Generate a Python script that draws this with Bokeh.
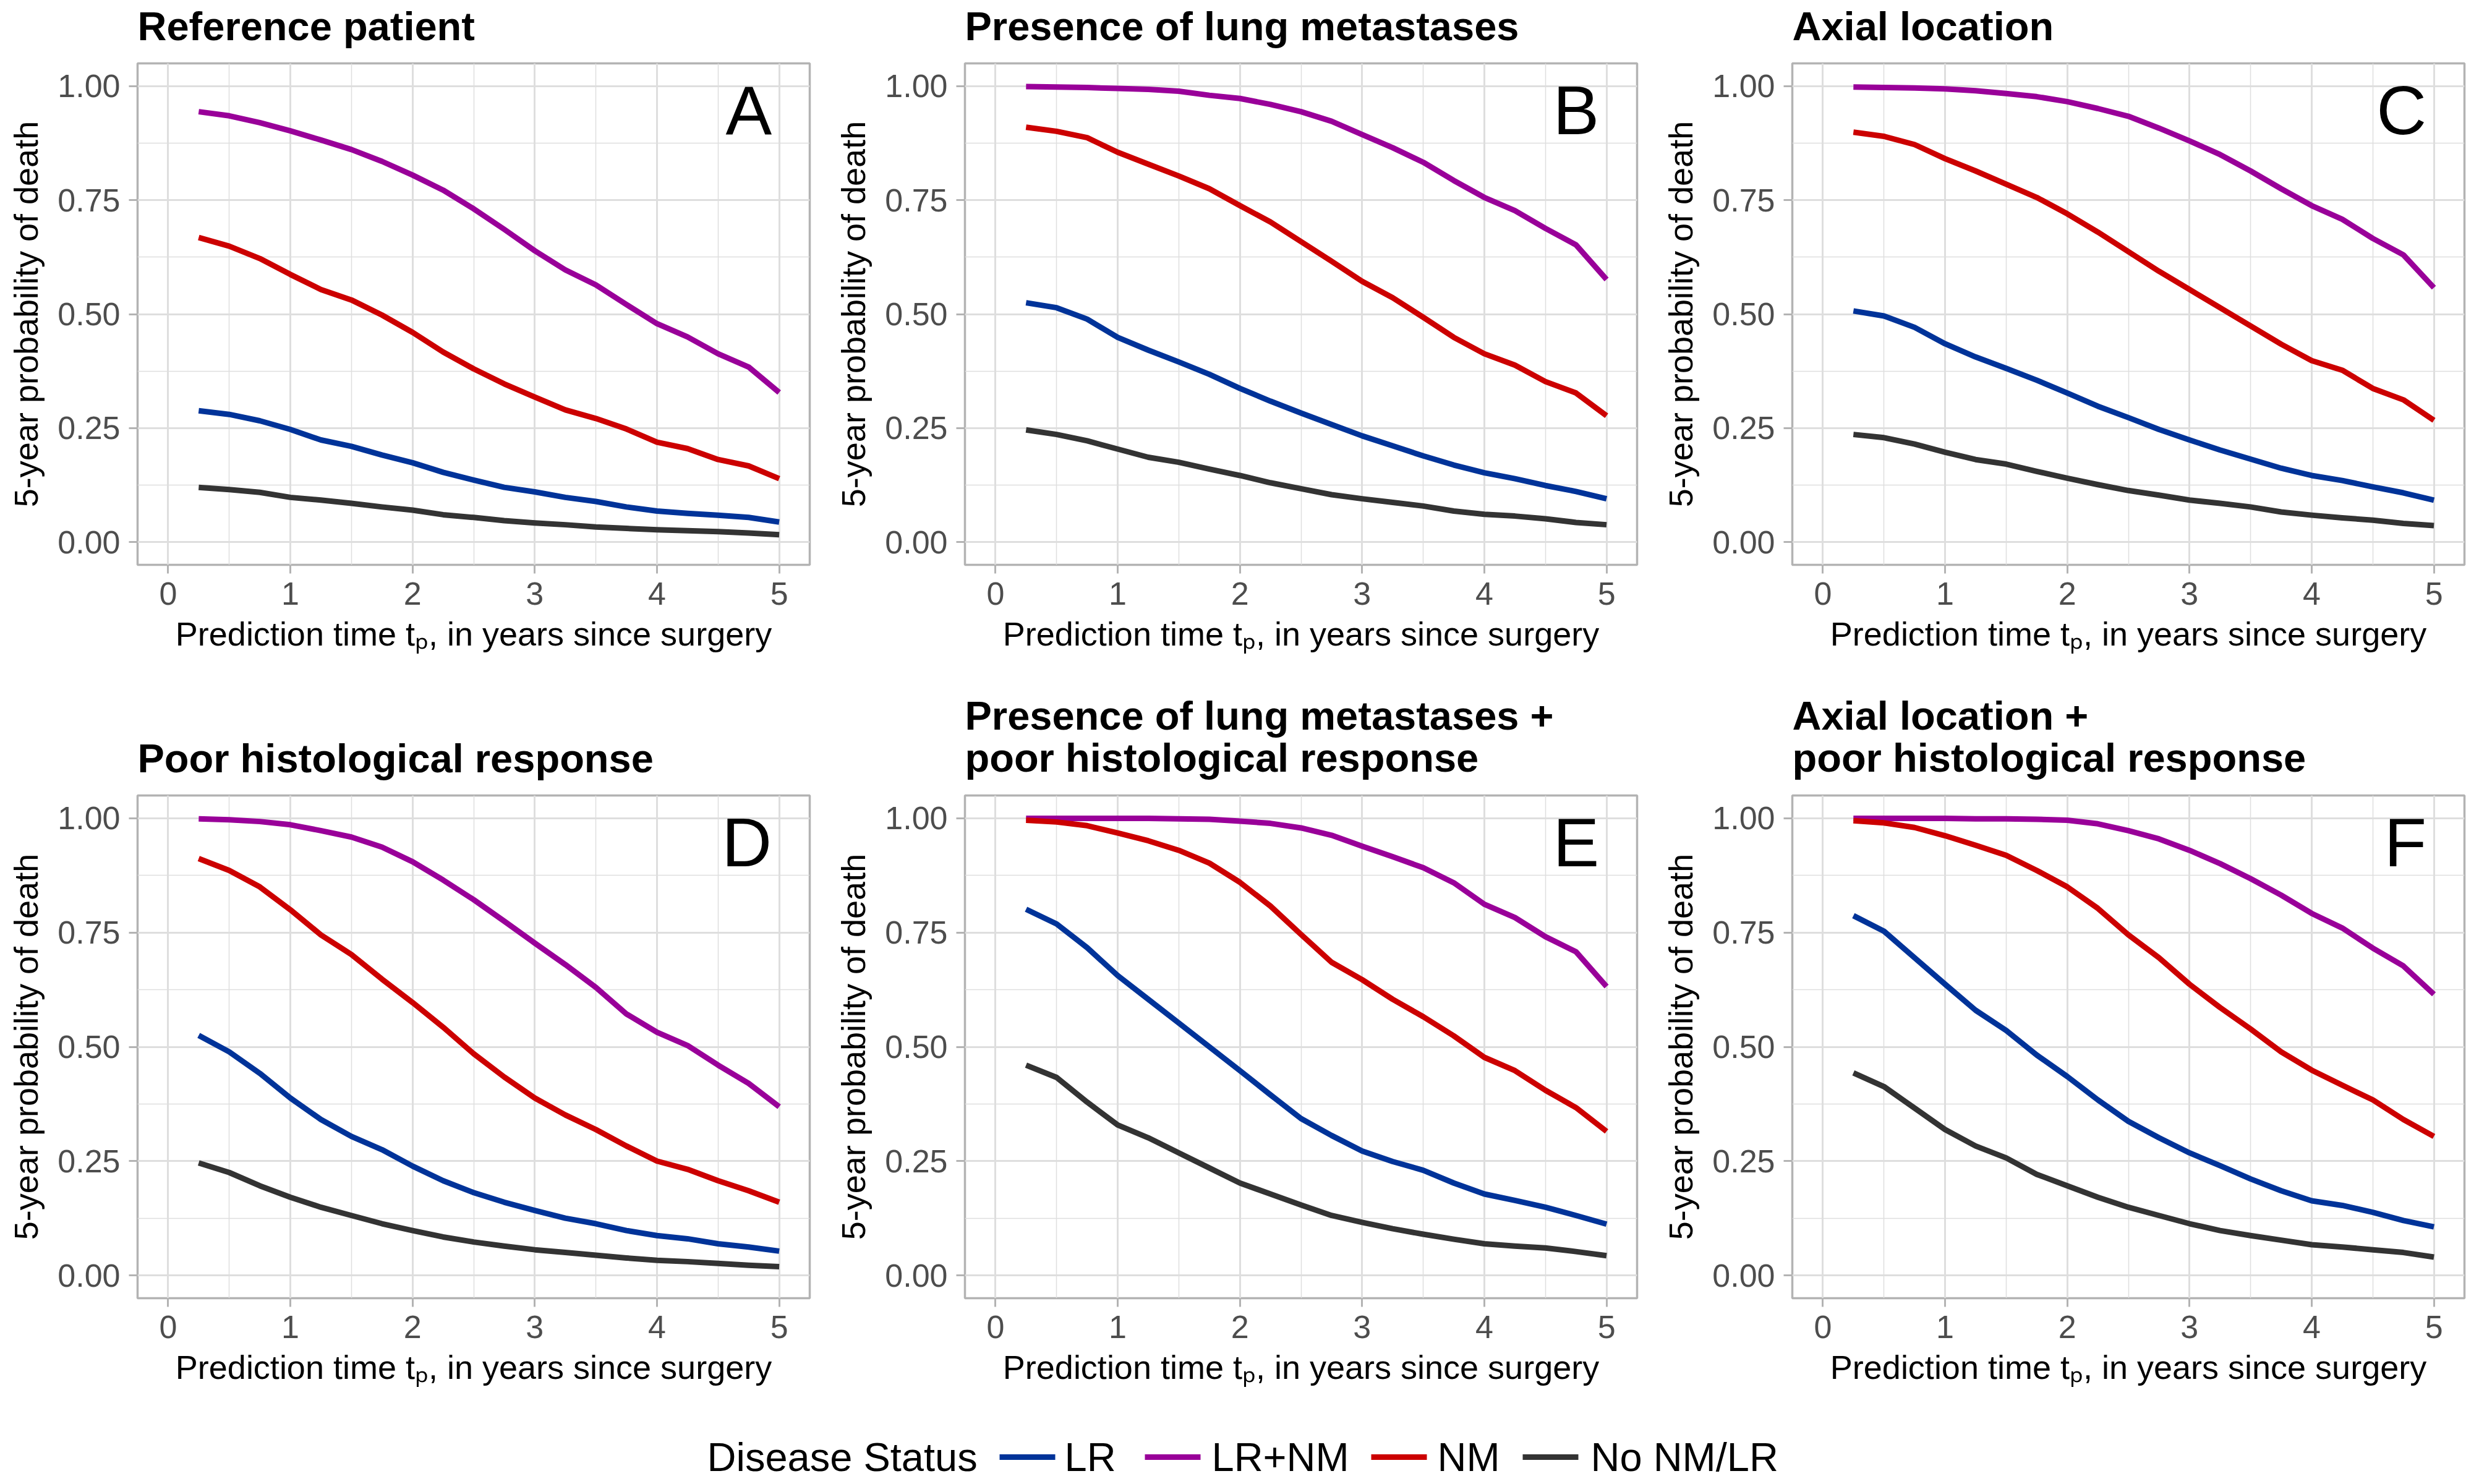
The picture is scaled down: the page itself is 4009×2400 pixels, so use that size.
from bokeh.plotting import figure
from bokeh.layouts import column, row
from bokeh.models import Range1d, FixedTicker
from bokeh.embed import file_html
from bokeh.resources import INLINE
from bokeh.core.properties import value

# ---------------- data ----------------
tp = [0.25, 0.5, 0.75, 1.0, 1.25, 1.5, 1.75, 2.0, 2.25, 2.5,
      2.75, 3.0, 3.25, 3.5, 3.75, 4.0, 4.25, 4.5, 4.75, 5.0]

series_names = ["LR", "LR+NM", "NM", "No NM/LR"]
series_colors = ["#003399", "#990099", "#CC0000", "#333333"]

panel_titles = ["Reference patient", "Presence of lung metastases", "Axial location",
                "Poor histological response",
                "Presence of lung metastases +\npoor histological response",
                "Axial location +\npoor histological response"]
panel_letters = ["A", "B", "C", "D", "E", "F"]

x_ticks = [0, 1, 2, 3, 4, 5]
x_minor = [0.5, 1.5, 2.5, 3.5, 4.5]
y_ticks = [0.0, 0.25, 0.5, 0.75, 1.0]
y_minor = [0.125, 0.375, 0.625, 0.875]
y_tick_labels = ["0.00", "0.25", "0.50", "0.75", "1.00"]

A_LR = [0.288, 0.280, 0.266, 0.247, 0.224, 0.210, 0.191, 0.174, 0.153, 0.136, 0.120, 0.110, 0.098, 0.089, 0.077, 0.068, 0.063, 0.059, 0.054, 0.044]
A_LRNM = [0.944, 0.935, 0.920, 0.902, 0.882, 0.861, 0.835, 0.805, 0.772, 0.731, 0.686, 0.639, 0.597, 0.564, 0.521, 0.479, 0.450, 0.413, 0.384, 0.328]
A_NM = [0.668, 0.649, 0.622, 0.587, 0.554, 0.531, 0.498, 0.460, 0.417, 0.380, 0.347, 0.318, 0.290, 0.271, 0.248, 0.219, 0.205, 0.181, 0.167, 0.139]
A_NONE = [0.120, 0.115, 0.109, 0.098, 0.092, 0.085, 0.077, 0.070, 0.060, 0.054, 0.047, 0.042, 0.038, 0.033, 0.030, 0.027, 0.025, 0.023, 0.020, 0.016]

B_LR = [0.525, 0.514, 0.489, 0.449, 0.421, 0.395, 0.368, 0.337, 0.309, 0.283, 0.258, 0.233, 0.211, 0.189, 0.169, 0.152, 0.139, 0.124, 0.111, 0.095]
B_LRNM = [0.999, 0.998, 0.997, 0.995, 0.993, 0.989, 0.980, 0.973, 0.960, 0.944, 0.923, 0.894, 0.865, 0.833, 0.793, 0.756, 0.727, 0.688, 0.652, 0.576]
B_NM = [0.910, 0.901, 0.887, 0.855, 0.829, 0.803, 0.775, 0.738, 0.702, 0.659, 0.616, 0.572, 0.536, 0.493, 0.449, 0.413, 0.388, 0.352, 0.327, 0.277]
B_NONE = [0.246, 0.236, 0.222, 0.204, 0.186, 0.175, 0.160, 0.146, 0.130, 0.117, 0.104, 0.095, 0.087, 0.079, 0.068, 0.061, 0.057, 0.051, 0.043, 0.038]

C_LR = [0.507, 0.496, 0.471, 0.435, 0.406, 0.381, 0.355, 0.327, 0.298, 0.273, 0.247, 0.224, 0.202, 0.182, 0.162, 0.146, 0.135, 0.121, 0.108, 0.092]
C_LRNM = [0.998, 0.997, 0.996, 0.994, 0.990, 0.984, 0.977, 0.966, 0.951, 0.934, 0.908, 0.880, 0.850, 0.814, 0.775, 0.738, 0.708, 0.666, 0.630, 0.558]
C_NM = [0.899, 0.890, 0.872, 0.841, 0.814, 0.785, 0.756, 0.720, 0.680, 0.637, 0.594, 0.554, 0.514, 0.474, 0.434, 0.398, 0.377, 0.337, 0.312, 0.267]
C_NONE = [0.236, 0.229, 0.215, 0.197, 0.181, 0.171, 0.155, 0.140, 0.126, 0.113, 0.103, 0.092, 0.085, 0.077, 0.066, 0.059, 0.053, 0.048, 0.041, 0.036]

D_LR = [0.525, 0.489, 0.442, 0.388, 0.341, 0.304, 0.275, 0.239, 0.207, 0.181, 0.160, 0.142, 0.125, 0.113, 0.098, 0.087, 0.080, 0.069, 0.062, 0.053]
D_LRNM = [0.999, 0.997, 0.993, 0.986, 0.973, 0.959, 0.937, 0.905, 0.865, 0.822, 0.775, 0.727, 0.680, 0.630, 0.572, 0.532, 0.503, 0.460, 0.420, 0.369]
D_NM = [0.912, 0.886, 0.850, 0.800, 0.745, 0.702, 0.648, 0.597, 0.543, 0.485, 0.434, 0.388, 0.351, 0.319, 0.283, 0.250, 0.232, 0.207, 0.185, 0.160]
D_NONE = [0.246, 0.225, 0.196, 0.171, 0.149, 0.131, 0.113, 0.098, 0.084, 0.073, 0.064, 0.056, 0.050, 0.044, 0.038, 0.033, 0.030, 0.026, 0.022, 0.019]

E_LR = [0.801, 0.769, 0.717, 0.656, 0.604, 0.552, 0.500, 0.448, 0.395, 0.343, 0.306, 0.272, 0.249, 0.230, 0.202, 0.178, 0.164, 0.149, 0.131, 0.112]
E_LRNM = [1.000, 1.000, 1.000, 1.000, 1.000, 0.999, 0.998, 0.994, 0.989, 0.979, 0.963, 0.939, 0.916, 0.892, 0.859, 0.812, 0.783, 0.741, 0.708, 0.632]
E_NM = [0.996, 0.992, 0.984, 0.968, 0.951, 0.930, 0.902, 0.860, 0.808, 0.746, 0.685, 0.647, 0.604, 0.566, 0.524, 0.477, 0.448, 0.405, 0.367, 0.315]
E_NONE = [0.460, 0.433, 0.379, 0.329, 0.301, 0.268, 0.235, 0.202, 0.178, 0.154, 0.131, 0.116, 0.102, 0.090, 0.079, 0.069, 0.064, 0.060, 0.052, 0.043]

F_LR = [0.787, 0.753, 0.695, 0.637, 0.580, 0.536, 0.482, 0.435, 0.384, 0.337, 0.301, 0.268, 0.240, 0.211, 0.185, 0.163, 0.153, 0.138, 0.120, 0.106]
F_LRNM = [1.000, 1.000, 1.000, 1.000, 0.999, 0.999, 0.998, 0.996, 0.988, 0.973, 0.955, 0.930, 0.901, 0.868, 0.832, 0.792, 0.760, 0.716, 0.677, 0.615]
F_NM = [0.995, 0.990, 0.980, 0.962, 0.941, 0.919, 0.886, 0.850, 0.803, 0.745, 0.695, 0.637, 0.586, 0.539, 0.489, 0.449, 0.416, 0.384, 0.341, 0.304]
F_NONE = [0.443, 0.413, 0.366, 0.319, 0.283, 0.257, 0.221, 0.196, 0.171, 0.149, 0.131, 0.113, 0.098, 0.087, 0.077, 0.067, 0.062, 0.056, 0.050, 0.040]

panel_data = [
    [A_LR, A_LRNM, A_NM, A_NONE],
    [B_LR, B_LRNM, B_NM, B_NONE],
    [C_LR, C_LRNM, C_NM, C_NONE],
    [D_LR, D_LRNM, D_NM, D_NONE],
    [E_LR, E_LRNM, E_NM, E_NONE],
    [F_LR, F_LRNM, F_NM, F_NONE],
]

x_title = "Prediction time t\u209a, in years since surgery"
y_title = "5-year probability of death"
legend_title = "Disease Status"

# ---------------- style ----------------
FONT = "Liberation Sans"
GRID = "#DEDEDE"
BORDER = "#B3B3B3"
TICKTXT = "#4D4D4D"


def make_panel(i):
    r = i // 3
    c = i % 3
    fh = 811 if r == 0 else 813
    p = figure(
        frame_width=1087,
        frame_height=fh,
        min_border_left=[222, 214, 214][c],
        min_border_right=[37, 37, 16][c],
        min_border_top=125 if r == 0 else 196,
        min_border_bottom=195 if r == 0 else 165,
        x_range=Range1d(-0.25, 5.25),
        y_range=Range1d(-0.05, 1.05),
        output_backend="svg",
        toolbar_location=None,
        background_fill_color="white",
        border_fill_color="white",
    )
    p.margin = (-23, 0, 0, 0) if r == 0 else (-18, 0, 0, 0)
    p.title.text = panel_titles[i]
    p.title.text_font = FONT
    p.title.text_font_size = "65px"
    p.title.text_font_style = "bold"
    p.title.text_color = "black"
    p.title.align = "left"
    p.title.standoff = 48
    p.title.text_line_height = 0.94

    p.outline_line_color = BORDER
    p.outline_line_width = 3.5

    p.xaxis.ticker = FixedTicker(ticks=x_ticks, minor_ticks=x_minor)
    p.yaxis.ticker = FixedTicker(ticks=y_ticks, minor_ticks=y_minor)
    p.yaxis.major_label_overrides = {t: l for t, l in zip(y_ticks, y_tick_labels)}
    p.xaxis.major_label_overrides = {t: str(t) for t in x_ticks}

    for ax in (p.xaxis[0], p.yaxis[0]):
        ax.axis_line_color = None
        ax.major_tick_line_color = BORDER
        ax.major_tick_line_width = 3
        ax.major_tick_out = 14
        ax.major_tick_in = 0
        ax.minor_tick_out = 0
        ax.minor_tick_in = 0
        ax.major_label_text_font = FONT
        ax.major_label_text_font_size = "52px"
        ax.major_label_text_color = TICKTXT
        ax.axis_label_text_font = FONT
        ax.axis_label_text_font_size = "54px"
        ax.axis_label_text_font_style = "normal"
        ax.axis_label_text_color = "black"
    p.xaxis.axis_label = x_title
    p.yaxis.axis_label = y_title
    p.xaxis.major_label_standoff = 14
    p.yaxis.major_label_standoff = 14
    p.xaxis.axis_label_standoff = 14
    p.yaxis.axis_label_standoff = 18

    for g in (p.xgrid[0], p.ygrid[0]):
        g.grid_line_color = GRID
        g.grid_line_width = 3
        g.minor_grid_line_color = GRID
        g.minor_grid_line_width = 1.5

    for vals, name, col in zip(panel_data[i], series_names, series_colors):
        p.line(tp, vals, line_color=col, line_width=9, line_join="round")

    p.text(x=[4.94], y=[0.947], text=[panel_letters[i]],
           text_font=value(FONT), text_font_size="112px",
           text_align="right", text_baseline="middle", text_color="black")
    return p


panels = [make_panel(i) for i in range(6)]

# ---------------- legend ----------------
LW, LH = 4001, 128
leg = figure(width=LW, height=LH, x_range=Range1d(0, LW), y_range=Range1d(0, LH),
             min_border=0, output_backend="svg", toolbar_location=None)
leg.axis.visible = False
leg.grid.visible = False
leg.outline_line_color = None
yc = 36
key_x0 = [1616, 1851, 2217, 2462]
label_x = [1721, 1959, 2324, 2572]
leg.text(x=[1143], y=[yc], text=[legend_title], text_font=value(FONT),
         text_font_size="65px", text_baseline="middle", text_align="left", text_color="black")
for x0, lx, name, col in zip(key_x0, label_x, series_names, series_colors):
    leg.segment(x0=[x0], y0=[yc], x1=[x0 + 90], y1=[yc], line_color=col, line_width=9)
    leg.text(x=[lx], y=[yc], text=[name], text_font=value(FONT),
             text_font_size="65px", text_baseline="middle", text_align="left", text_color="black")

layout = column(row(*panels[:3]), row(*panels[3:]), leg)
open("out.html", "w").write(file_html(layout, INLINE))
